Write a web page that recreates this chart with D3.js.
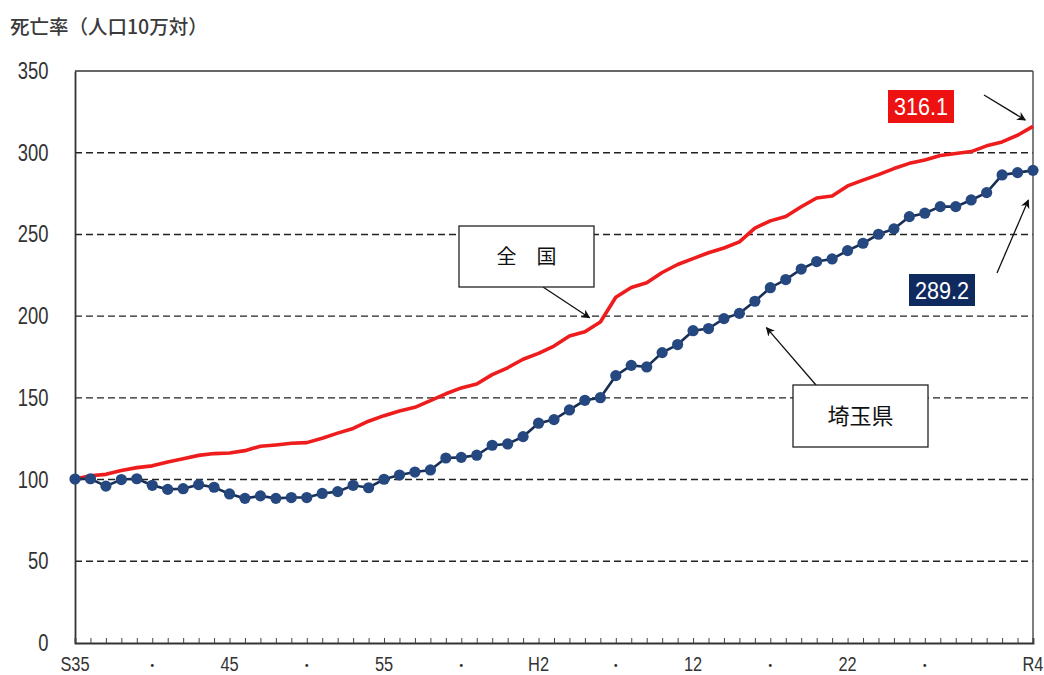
<!DOCTYPE html>
<html><head><meta charset="utf-8">
<script src="https://cdn.jsdelivr.net/npm/d3@7"></script>
<style>
body{margin:0;background:#fff;}
svg{display:block;}
</style></head>
<body>
<svg id="chart" width="1044" height="675"></svg>
<script>
// ---- data ----
const years = d3.range(1960, 2023);
const xTickLabels = ["S35","・","45","・","55","・","H2","・","12","・","22","・","R4"];
const xTickIndex = [0,5,10,15,20,25,30,35,40,45,50,55,62];
const yTicks = [0,50,100,150,200,250,300,350];
const national = [100.4,102.3,103.2,105.5,107.3,108.4,110.8,112.8,114.8,115.9,
  116.3,117.7,120.4,121.2,122.2,122.6,125.3,128.4,131.3,135.7,
  139.1,142.0,144.2,148.3,152.5,156.1,158.5,164.2,168.4,173.6,
  177.2,181.7,187.8,190.4,196.4,211.6,217.5,220.4,226.7,231.6,
  235.2,238.8,241.7,245.4,253.9,258.3,261.0,266.9,272.3,273.5,
  279.7,283.2,286.6,290.3,293.5,295.5,298.3,299.5,300.7,304.2,
  306.6,310.7,316.1];
const saitama = [100.3,100.5,96.0,100.0,100.5,96.5,94.0,94.4,96.9,95.3,
  91.2,88.5,90.0,88.5,89.0,89.0,91.5,92.6,96.5,95.0,
  100.2,102.8,104.6,105.9,113.2,113.6,114.9,121.0,121.8,126.3,
  134.5,136.7,142.6,148.5,150.1,163.6,169.9,168.9,177.7,182.6,
  191.1,192.4,198.5,201.7,209.1,217.4,222.4,228.8,233.4,235.0,
  240.1,244.6,250.1,253.4,260.9,263.0,267.0,267.0,271.1,275.6,
  286.4,287.8,289.2];
const title = "死亡率（人口10万対）";
const seriesNames = ["全　国","埼玉県"];
const endLabels = ["316.1","289.2"];

// ---- layout ----
const svg = d3.select("#chart");
const mLeft = 75, mRight = 1033, mTop = 71, mBottom = 643;
const x = d3.scaleLinear().domain([0, years.length - 1]).range([mLeft, mRight]);
const y = d3.scaleLinear().domain([0, 350]).range([mBottom, mTop]);
const numFont = "'Liberation Sans',Arial,sans-serif";
const jpFont = "'Noto Sans CJK JP',sans-serif";
const narrow = 0.8;

// title
svg.append("text").attr("x", 10).attr("y", 34)
  .attr("font-family", jpFont).attr("font-size", 19.5).attr("font-weight", 500)
  .attr("fill", "#3a3a3a").text(title);

// gridlines
svg.append("g").selectAll("line").data(yTicks.filter(d => d > 0 && d < 350)).join("line")
  .attr("x1", mLeft).attr("x2", mRight).attr("y1", d => y(d)).attr("y2", d => y(d))
  .attr("stroke", "#222").attr("stroke-width", 1.4).attr("stroke-dasharray", "7,4");

// frame (top + right)
svg.append("line").attr("x1", mLeft).attr("x2", mRight).attr("y1", y(350)).attr("y2", y(350))
  .attr("stroke", "#333").attr("stroke-width", 1.5);
svg.append("line").attr("x1", mRight).attr("x2", mRight).attr("y1", y(350)).attr("y2", y(0))
  .attr("stroke", "#555").attr("stroke-width", 1.5);

// y axis
const yAxis = svg.append("g").attr("transform", `translate(${mLeft},0)`)
  .call(d3.axisLeft(y).tickValues(yTicks).tickSize(0).tickFormat(""));
yAxis.select(".domain").attr("stroke", "#333").attr("stroke-width", 1.8);
svg.append("g").selectAll("text").data(yTicks).join("text")
  .attr("transform", d => `translate(48.5,${y(d) + 8}) scale(${narrow},1)`)
  .attr("text-anchor", "end")
  .attr("font-family", numFont).attr("font-size", 23).attr("fill", "#333")
  .text(d => d);

// x axis with a tick every year
const xAxis = svg.append("g").attr("transform", `translate(0,${mBottom})`)
  .call(d3.axisBottom(x).tickValues(d3.range(years.length)).tickSize(-5).tickFormat(""));
xAxis.select(".domain").attr("stroke", "#333").attr("stroke-width", 1.8);
xAxis.selectAll(".tick line").attr("stroke", "#444").attr("stroke-width", 1);
svg.append("g").selectAll("text").data(xTickIndex).join("text")
  .attr("transform", (d, i) => xTickLabels[i] === "・"
      ? `translate(${x(d)},${mBottom + 27})`
      : `translate(${x(d)},${mBottom + 28}) scale(${narrow},1)`)
  .attr("text-anchor", "middle")
  .attr("font-family", (d, i) => xTickLabels[i] === "・" ? jpFont : numFont)
  .attr("font-size", (d, i) => xTickLabels[i] === "・" ? 14 : 20.5).attr("fill", "#333")
  .text((d, i) => xTickLabels[i]);

// lines
const line = d3.line().x((d, i) => x(i)).y(d => y(d));
svg.append("path").datum(national).attr("d", line)
  .attr("fill", "none").attr("stroke", "#ee1c1c").attr("stroke-width", 3.6)
  .attr("stroke-linejoin", "round");
svg.append("path").datum(saitama).attr("d", line)
  .attr("fill", "none").attr("stroke", "#1a2f55").attr("stroke-width", 2.6);
svg.append("g").selectAll("circle").data(saitama).join("circle")
  .attr("cx", (d, i) => x(i)).attr("cy", d => y(d)).attr("r", 5.6)
  .attr("fill", "#24487f");

// arrow marker
svg.append("defs").append("marker").attr("id", "arr")
  .attr("viewBox", "0 0 10 10").attr("refX", 9).attr("refY", 5)
  .attr("markerWidth", 9).attr("markerHeight", 9).attr("orient", "auto")
  .attr("markerUnits", "userSpaceOnUse")
  .append("path").attr("d", "M0,0 L10,5 L0,10 L3,5 Z").attr("fill", "#111");

function arrow(x1, y1, x2, y2) {
  svg.append("line").attr("x1", x1).attr("y1", y1).attr("x2", x2).attr("y2", y2)
    .attr("stroke", "#111").attr("stroke-width", 1.3).attr("marker-end", "url(#arr)");
}

// 全国 box
arrow(543, 287, x(33.3), y(199));
svg.append("rect").attr("x", 459).attr("y", 226).attr("width", 135).attr("height", 61)
  .attr("fill", "#fff").attr("stroke", "#222").attr("stroke-width", 1.3);
svg.append("text").attr("x", 526.5).attr("y", 264).attr("text-anchor", "middle")
  .attr("font-family", jpFont).attr("font-size", 20).attr("fill", "#111").text(seriesNames[0]);

// 埼玉県 box
arrow(816, 385, x(44.75), y(193));
svg.append("rect").attr("x", 793).attr("y", 385).attr("width", 135).attr("height", 62)
  .attr("fill", "#fff").attr("stroke", "#222").attr("stroke-width", 1.3);
svg.append("text").attr("x", 860.5).attr("y", 424).attr("text-anchor", "middle")
  .attr("font-family", jpFont).attr("font-size", 22).attr("fill", "#111").text(seriesNames[1]);

// end value labels
arrow(984, 95, x(61.5), y(320));
svg.append("rect").attr("x", 888).attr("y", 90).attr("width", 66).attr("height", 33).attr("fill", "#ee1111");
svg.append("text").attr("x", 894).attr("y", 115)
  .attr("textLength", 54).attr("lengthAdjust", "spacingAndGlyphs")
  .attr("font-family", numFont).attr("font-size", 24).attr("fill", "#fff").text(endLabels[0]);

arrow(997, 273, x(61.7), y(271));
svg.append("rect").attr("x", 909).attr("y", 274).attr("width", 66).attr("height", 32).attr("fill", "#0f2a5e");
svg.append("text").attr("x", 915).attr("y", 299)
  .attr("textLength", 54).attr("lengthAdjust", "spacingAndGlyphs")
  .attr("font-family", numFont).attr("font-size", 24).attr("fill", "#fff").text(endLabels[1]);
</script>
</body></html>
